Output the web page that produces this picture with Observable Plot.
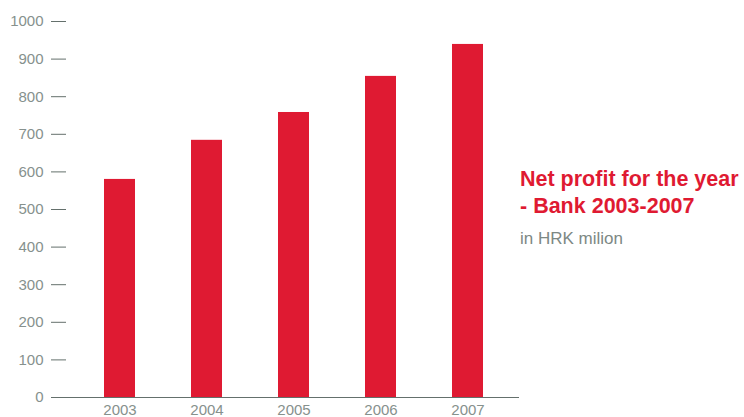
<!DOCTYPE html>
<html>
<head>
<meta charset="utf-8">
<script src="https://cdn.jsdelivr.net/npm/d3@7"></script>
<script src="https://cdn.jsdelivr.net/npm/@observablehq/plot@0.6"></script>
<style>
  html, body { margin: 0; padding: 0; background: #fff; }
  #wrap { position: relative; width: 744px; height: 417px; overflow: hidden; }
  #legend { position: absolute; left: 520px; top: 166px; font-family: "Liberation Sans", Arial, sans-serif; }
  #legend .t { color: #df1a32; font-weight: bold; font-size: 21.5px; line-height: 27px; white-space: nowrap; }
  #legend .s { color: #7d8884; font-size: 17px; line-height: 24px; margin-top: 7px; white-space: nowrap; }
</style>
</head>
<body>
<div id="wrap">
  <div id="chart"></div>
  <div id="legend">
    <div class="t">Net profit for the year</div>
    <div class="t">- Bank 2003-2007</div>
    <div class="s">in HRK milion</div>
  </div>
</div>
<script>
// Net profit of the bank per year, HRK million
const years = ["2003", "2004", "2005", "2006", "2007"];
const profit = [580, 684, 758, 854, 939];
const yTicks = [0, 100, 200, 300, 400, 500, 600, 700, 800, 900, 1000];

const rows = years.map((year, i) => ({year, profit: profit[i]}));

const chart = Plot.plot({
  width: 744,
  height: 417,
  marginLeft: 66,
  marginRight: 225,
  marginTop: 21,
  marginBottom: 20,
  style: {fontFamily: "'Liberation Sans', Arial, sans-serif", fontSize: "15px", background: "#fff"},
  x: {domain: years, range: [104, 483], paddingInner: 0.644, paddingOuter: 0, label: null},
  y: {domain: [0, 1000], label: null},
  marks: [
    Plot.barY(rows, {x: "year", y: "profit", fill: "#df1a32"}),
    Plot.axisY({ticks: yTicks, tickFormat: d => String(d), tickSize: 15, tickPadding: 8,
      stroke: "#64706c", fill: "#86918d", label: null}),
    Plot.axisX({tickSize: 0, tickPadding: 7, fill: "#86918d", label: null}),
    Plot.ruleY([0], {stroke: "#64706c"})
  ]
});
document.getElementById("chart").appendChild(chart);
</script>
</body>
</html>
